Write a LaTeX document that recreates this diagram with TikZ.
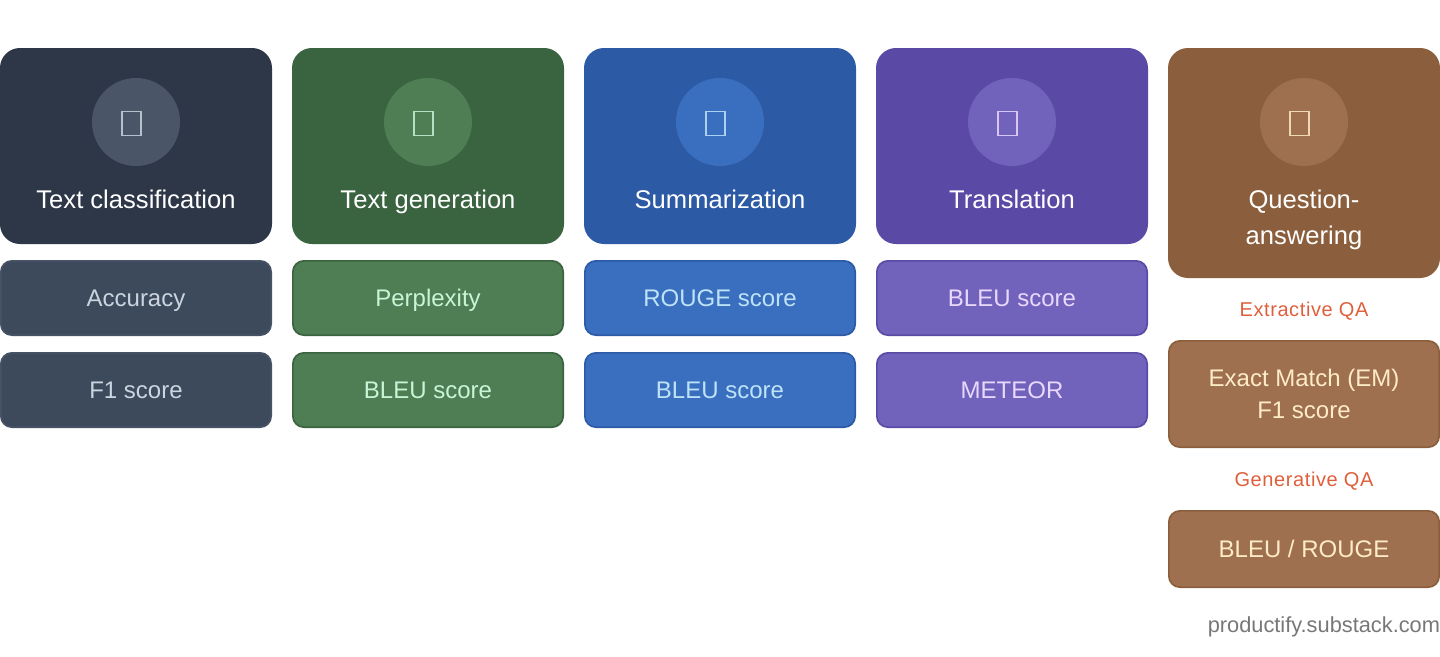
\documentclass[tikz,border=0pt]{standalone}
\usepackage{fontspec}
\setmainfont{Liberation Sans}
\definecolor{hA}{HTML}{2D3748}\definecolor{hB}{HTML}{3A633F}\definecolor{hC}{HTML}{2C5AA5}\definecolor{hD}{HTML}{5A4AA5}\definecolor{hE}{HTML}{8B5F3D}
\definecolor{cA}{HTML}{4A5568}\definecolor{cB}{HTML}{4F7D54}\definecolor{cC}{HTML}{3A6FC0}\definecolor{cD}{HTML}{7162BC}\definecolor{cE}{HTML}{9F7050}
\definecolor{mA}{HTML}{3D4A5C}
\definecolor{bA}{HTML}{475266}
\definecolor{tA}{HTML}{CBD5E0}\definecolor{tB}{HTML}{C6F6D5}\definecolor{tC}{HTML}{BEE3F8}\definecolor{tD}{HTML}{E9D8FD}\definecolor{tE}{HTML}{FEEBC8}
\definecolor{qa}{HTML}{DF5F3C}\definecolor{foot}{HTML}{777777}
\tikzset{
 header/.style={draw=#1,fill=#1,line width=2pt,rounded corners=19pt,minimum width=270pt,outer sep=0pt,inner sep=0pt},
 iconcirc/.style={circle,fill=#1,minimum size=88pt,inner sep=0pt,outer sep=0pt},
 tofu/.style={draw=#1,draw opacity=.85,line width=1.5pt,minimum width=19pt,minimum height=24pt,inner sep=0pt,outer sep=0pt},
 title/.style={text=white,font=\fontsize{25.6}{36}\selectfont,align=center,inner sep=0pt,outer sep=0pt,anchor=base},
 metric/.style n args={3}{draw=#2,fill=#1,text=#3,line width=1.7pt,rounded corners=11pt,minimum width=270.3pt,minimum height=74.3pt,outer sep=0pt,inner sep=0pt,
   font=\fontsize{24}{32}\selectfont,align=center,text height=18pt,text depth=2pt},
 qalabel/.style={text=qa,font=\fontsize{20}{24}\selectfont\addfontfeature{LetterSpace=3},inner sep=0pt,outer sep=0pt,anchor=base},
}
\begin{document}
\begin{tikzpicture}[x=1pt,y=-1pt]
\useasboundingbox (0,0) rectangle (1440,656);
% column 1
\node[header=hA,minimum height=194pt] (h1) at (136,146) {};
\node[iconcirc=cA] (c1) at (136,122) {};
\node[tofu=tA] (g1) at (131.5,123.5) {};
\node[title] (t1) at (136,208) {Text classification};
\node[metric={mA}{bA}{tA}] (m1a) at (136,298) {Accuracy};
\node[metric={mA}{bA}{tA}] (m1b) at (136,390) {F1 score};
% column 2
\node[header=hB,minimum height=194pt] (h2) at (428,146) {};
\node[iconcirc=cB] (c2) at (428,122) {};
\node[tofu=tB] (g2) at (423.5,123.5) {};
\node[title] (t2) at (428,208) {Text generation};
\node[metric={cB}{hB}{tB}] (m2a) at (428,298) {Perplexity};
\node[metric={cB}{hB}{tB}] (m2b) at (428,390) {BLEU score};
% column 3
\node[header=hC,minimum height=194pt] (h3) at (720,146) {};
\node[iconcirc=cC] (c3) at (720,122) {};
\node[tofu=tC] (g3) at (715.5,123.5) {};
\node[title] (t3) at (720,208) {Summarization};
\node[metric={cC}{hC}{tC}] (m3a) at (720,298) {ROUGE score};
\node[metric={cC}{hC}{tC}] (m3b) at (720,390) {BLEU score};
% column 4
\node[header=hD,minimum height=194pt] (h4) at (1012,146) {};
\node[iconcirc=cD] (c4) at (1012,122) {};
\node[tofu=tD] (g4) at (1007.5,123.5) {};
\node[title] (t4) at (1012,208) {Translation};
\node[metric={cD}{hD}{tD}] (m4a) at (1012,298) {BLEU score};
\node[metric={cD}{hD}{tD}] (m4b) at (1012,390) {METEOR};
% column 5
\node[header=hE,minimum height=228pt] (h5) at (1304,163) {};
\node[iconcirc=cE] (c5) at (1304,122) {};
\node[tofu=tE] (g5) at (1299.5,123.5) {};
\node[title] (t5a) at (1304,208) {Question-};
\node[title] (t5b) at (1304,244) {answering};
\node[qalabel] (q1) at (1304,316) {Extractive QA};
\node[metric={cE}{hE}{tE},minimum height=106.3pt,text height=50pt,text depth=2pt] (m5a) at (1304,394) {Exact Match (EM)\\F1 score};
\node[qalabel] (q2) at (1304,486) {Generative QA};
\node[metric={cE}{hE}{tE},minimum height=76.3pt] (m5b) at (1304,549) {BLEU / ROUGE};
\node[text=foot,font=\fontsize{21.8}{26}\selectfont,inner sep=0pt,outer sep=0pt,anchor=base east] (foot) at (1440,632.5) {productify.substack.com};
\end{tikzpicture}
\end{document}
